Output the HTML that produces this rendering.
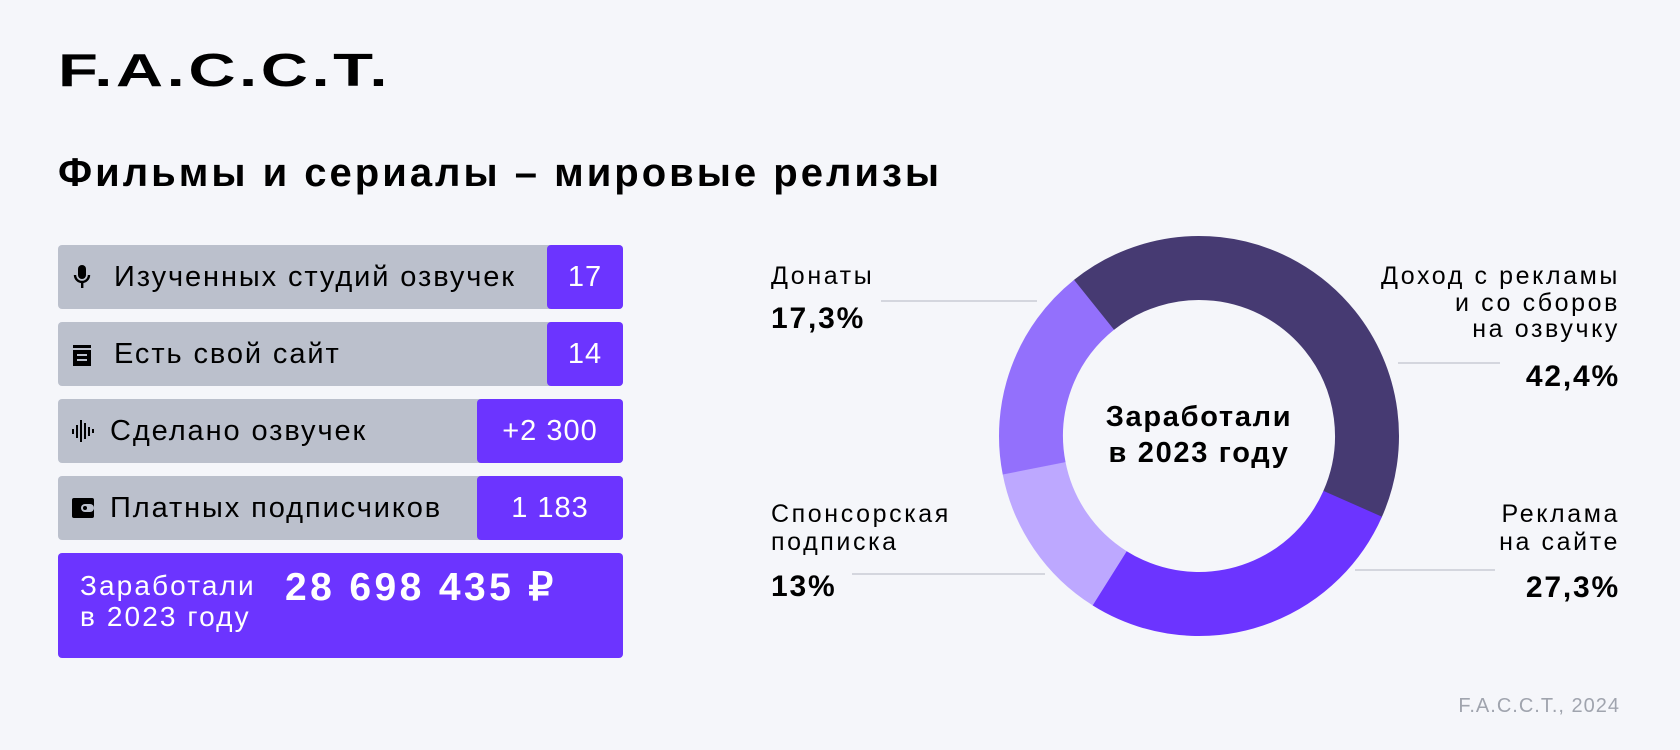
<!DOCTYPE html>
<html><head><meta charset="utf-8"><style>
body{margin:0;width:1680px;height:750px;background:#f5f6fa;font-family:"Liberation Sans",sans-serif;position:relative;overflow:hidden;color:#000}
.a{position:absolute;white-space:nowrap}
.bar{position:absolute;left:58px;width:565px;height:64px;background:#bbc0cc;border-radius:4px;overflow:hidden}
.bar .t{position:absolute;top:0;line-height:64px;font-size:29px;letter-spacing:1.9px}
.bar .v{position:absolute;top:0;right:0;height:64px;background:#6c34ff;color:#fff;font-size:29px;letter-spacing:1px;line-height:64px;text-align:center;border-radius:4px 0 0 4px}
.l{font-size:25px;line-height:28px;letter-spacing:2.6px}
.p{font-size:30px;font-weight:bold;line-height:32px;letter-spacing:1.8px}
.r{text-align:right;right:60px}
</style></head><body>
<div class="a" style="left:58px;top:45px;font-size:46px;font-weight:bold;line-height:50px;letter-spacing:2.5px;transform:scaleX(1.42);transform-origin:left">F.A.C.C.T.</div>
<div class="a" style="left:58px;top:150px;font-size:40px;font-weight:bold;line-height:46px;letter-spacing:3px">Фильмы и сериалы – мировые релизы</div>

<div class="bar" style="top:245px"><div class="t" style="left:56px">Изученных студий озвучек</div><div class="v" style="width:76px">17</div>
<svg style="position:absolute;left:14px;top:20px" width="20" height="26" viewBox="0 0 20 26"><rect x="6" y="0" width="8" height="14" rx="4" fill="#000"/><path d="M3 10a7 7 0 0 0 14 0" stroke="#000" stroke-width="2.4" fill="none"/><rect x="9" y="17" width="2.4" height="6" fill="#000"/></svg></div>
<div class="bar" style="top:322px"><div class="t" style="left:56px">Есть свой сайт</div><div class="v" style="width:76px">14</div>
<svg style="position:absolute;left:14px;top:23px" width="20" height="22" viewBox="0 0 20 22"><rect x="1" y="0" width="18" height="3" fill="#000"/><rect x="1" y="5" width="18" height="16" fill="#000"/><rect x="5" y="9" width="10" height="2" fill="#bbc0cc"/><rect x="5" y="14" width="10" height="2" fill="#bbc0cc"/></svg></div>
<div class="bar" style="top:399px"><div class="t" style="left:52px">Сделано озвучек</div><div class="v" style="width:146px">+2 300</div>
<svg style="position:absolute;left:14px;top:21px" width="24" height="22" viewBox="0 0 24 22"><rect x="0" y="9" width="2" height="5" fill="#000"/><rect x="4" y="5" width="2" height="13" fill="#000"/><rect x="8" y="0" width="2" height="22" fill="#000"/><rect x="12" y="3" width="2" height="16" fill="#000"/><rect x="16" y="7" width="2" height="9" fill="#000"/><rect x="20" y="9" width="2" height="4" fill="#000"/></svg></div>
<div class="bar" style="top:476px"><div class="t" style="left:52px">Платных подписчиков</div><div class="v" style="width:146px">1 183</div>
<svg style="position:absolute;left:14px;top:22px" width="22" height="20" viewBox="0 0 22 20"><rect x="0" y="0" width="22" height="20" rx="2" fill="#000"/><rect x="9" y="6" width="13" height="8" rx="4" fill="#bbc0cc"/><circle cx="13" cy="10" r="2" fill="#000"/></svg></div>
<div style="position:absolute;left:58px;top:553px;width:565px;height:105px;background:#6c34ff;border-radius:4px"></div>
<div class="a" style="left:80px;top:570px;color:#fff;font-size:28px;line-height:31px;letter-spacing:2.1px">Заработали<br>в 2023 году</div>
<div class="a" style="left:285px;top:567px;color:#fff;font-size:39px;font-weight:bold;line-height:42px;letter-spacing:3.4px">28 698 435 ₽</div>

<svg class="a" style="left:0;top:0" width="1680" height="750">
<g fill="none" stroke-width="64">
<circle cx="1199" cy="436" r="168" stroke="#463a72" stroke-dasharray="448 2000" transform="rotate(231.2 1199 436)"/>
<circle cx="1199" cy="436" r="168" stroke="#6c34ff" stroke-dasharray="288.5 2000" transform="rotate(23.8 1199 436)"/>
<circle cx="1199" cy="436" r="168" stroke="#bda8ff" stroke-dasharray="137.5 2000" transform="rotate(122.1 1199 436)"/>
<circle cx="1199" cy="436" r="168" stroke="#9370fc" stroke-dasharray="183 2000" transform="rotate(168.9 1199 436)"/>
</g>
<g stroke="#c9ccd4" stroke-width="1.5">
<line x1="881" y1="301" x2="1037" y2="301"/>
<line x1="852" y1="574" x2="1045" y2="574"/>
<line x1="1398" y1="363" x2="1500" y2="363"/>
<line x1="1355" y1="570" x2="1495" y2="570"/>
</g>
</svg>
<div class="a" style="left:1079px;top:399px;width:240px;text-align:center;font-size:29px;font-weight:bold;line-height:36px;letter-spacing:1.7px">Заработали<br>в 2023 году</div>

<div class="a l" style="left:771px;top:262px">Донаты</div>
<div class="a p" style="left:771px;top:303px">17,3%</div>
<div class="a l" style="left:771px;top:500px">Спонсорская<br>подписка</div>
<div class="a p" style="left:771px;top:571px">13%</div>
<div class="a l r" style="top:263px;line-height:26.5px">Доход с рекламы<br>и со сборов<br>на озвучку</div>
<div class="a p r" style="top:361px">42,4%</div>
<div class="a l r" style="top:500px">Реклама<br>на сайте</div>
<div class="a p r" style="top:572px">27,3%</div>
<div class="a r" style="top:695px;font-size:20px;color:#a0a4ae;letter-spacing:1px">F.A.C.C.T., 2024</div>
</body></html>
